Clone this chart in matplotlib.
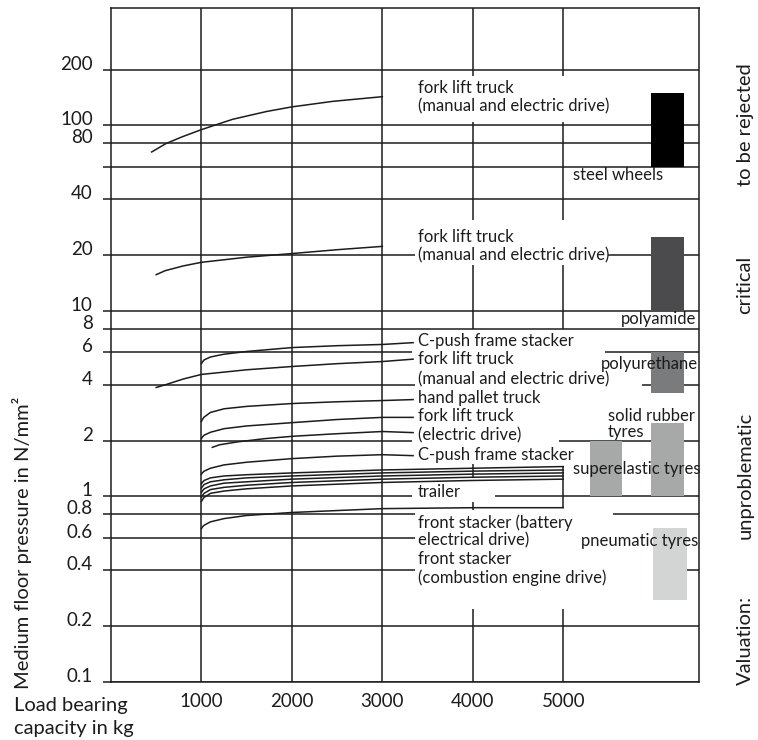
import matplotlib
matplotlib.use('Agg')
import matplotlib.pyplot as plt
import matplotlib.transforms as mtrans

plt.rcParams['font.family'] = ['Lato', 'DejaVu Sans']

INK = '#1c1c1c'
LW = 1.1

# ---- axis values -------------------------------------------------------
y_ticks = [0.1, 0.2, 0.4, 0.6, 0.8, 1, 2, 4, 6, 8, 10, 20, 40, 60, 80, 100, 200]
y_ticklabels = ['0.1', '0.2', '0.4', '0.6', '0.8', '1', '2', '4', '6', '8',
                '10', '20', '40', '', '80', '100', '200']
x_ticks = [1000, 2000, 3000, 4000, 5000]

# ---- vehicle curves (load in kg, floor pressure in N/mm2) -----------------
fork_top_x = [450, 610, 790, 1000, 1345, 1720, 2000, 2455, 3000]
fork_top_p = [72, 80, 87, 95, 108, 119, 126, 135, 143]

fork_mid_x = [500, 600, 800, 1000, 1500, 2000, 2500, 3000]
fork_mid_p = [15.7, 16.5, 17.5, 18.3, 19.5, 20.4, 21.4, 22.3]

cpush_top_x = [1000, 1010, 1030, 1100, 1250, 1500, 2000, 2500, 3000, 3340]
cpush_top_p = [5.2, 5.3, 5.45, 5.65, 5.85, 6.05, 6.35, 6.5, 6.6, 6.75]

fork_low_x = [500, 600, 800, 1000, 1500, 2000, 2500, 3000, 3340]
fork_low_p = [3.87, 4.0, 4.3, 4.55, 4.82, 5.02, 5.2, 5.34, 5.5]

pallet_x = [1000, 1010, 1030, 1100, 1250, 1500, 2000, 2500, 3000, 3340]
pallet_p = [2.54, 2.6, 2.68, 2.84, 2.97, 3.06, 3.17, 3.24, 3.29, 3.33]

fork_el_x = [1000, 1010, 1030, 1100, 1250, 1500, 2000, 2500, 3000, 3340]
fork_el_p = [2.05, 2.09, 2.14, 2.22, 2.32, 2.40, 2.50, 2.60, 2.67, 2.67]

fork_el2_x = [1120, 1200, 1400, 1700, 2000, 2500, 3000, 3340]
fork_el2_p = [1.84, 1.90, 1.97, 2.05, 2.11, 2.18, 2.24, 2.21]

cpush_low_x = [1000, 1010, 1030, 1100, 1250, 1500, 2000, 2500, 3000, 3340]
cpush_low_p = [1.32, 1.34, 1.37, 1.42, 1.48, 1.53, 1.60, 1.65, 1.68, 1.66]

trailer_x = [1000, 1010, 1030, 1100, 1250, 1500, 2000, 3000, 4000, 5000]
trailer_p = [
    [1.17, 1.19, 1.22, 1.26, 1.29, 1.31, 1.34, 1.39, 1.42, 1.45],
    [1.11, 1.13, 1.16, 1.20, 1.23, 1.26, 1.29, 1.34, 1.37, 1.39],
    [1.05, 1.07, 1.10, 1.14, 1.18, 1.20, 1.24, 1.29, 1.32, 1.34],
    [0.99, 1.01, 1.04, 1.09, 1.12, 1.15, 1.19, 1.24, 1.27, 1.29],
    [0.94, 0.96, 0.99, 1.04, 1.07, 1.10, 1.14, 1.19, 1.22, 1.24],
]

front_x = [1000, 1010, 1030, 1100, 1250, 1500, 2000, 3000, 4000, 5000]
front_p = [0.67, 0.685, 0.70, 0.73, 0.76, 0.79, 0.82, 0.86, 0.87, 0.87]

# ---- wheel material bands ---------------------------------------------
materials = ['steel wheels', 'polyamide', 'polyurethane',
             'solid rubber tyres', 'superelastic tyres', 'pneumatic tyres']
mat_low = [60, 10, 3.6, 1.0, 1.0, 0.275]
mat_high = [150, 25, 6, 2.5, 2.0, 0.68]
mat_x0 = [5970, 5970, 5970, 5970, 5300, 5995]
mat_x1 = [6335, 6335, 6335, 6335, 5650, 6370]
mat_colors = ['#000000', '#4b4b4d', '#7a7b7c', '#a6a9a8', '#a6a9a8', '#d3d4d4']

XMAX = 6500
YTOP = 430

# broken grid lines (gaps leave room for the labels)
h_spans = {
    0.4: [(0, 3356), (6371, XMAX)],
    0.6: [(0, 3356)],
    0.8: [(0, 3356), (5551, XMAX)],
    1: [(0, 3333), (4244, XMAX)],
    2: [(0, 3330), (4953, XMAX)],
    4: [(0, 3356), (5873, XMAX)],
    6: [(0, 3333), (5462, XMAX)],
    20: [(0, 3356), (5496, XMAX)],
}
v_spans = {
    4000: [(184, YTOP), (31.1, 105), (7.95, 17.8), (1.28, 1.49), (0.85, 0.93), (0.1, 0.246)],
    5000: [(184, YTOP), (31.1, 105), (7.95, 17.8), (0.87, 1.45), (0.1, 0.246)],
}

fig = plt.figure(figsize=(7.58, 7.40), dpi=100)
ax = fig.add_axes([0.1464, 0.0784, 0.7757, 0.9108])
ax.set_yscale('log')
ax.set_xlim(0, XMAX)
ax.set_ylim(0.1, YTOP)

# grid
for v in y_ticks:
    for a, b in h_spans.get(v, [(0, XMAX)]):
        ax.plot([a, b], [v, v], color=INK, lw=LW, zorder=1, solid_capstyle='butt')
for v in x_ticks:
    for lo, hi in v_spans.get(v, [(0.1, YTOP)]):
        ax.plot([v, v], [lo, hi], color=INK, lw=LW, zorder=1, solid_capstyle='butt')

# bands
for lo, hi, x0, x1, c in zip(mat_low, mat_high, mat_x0, mat_x1, mat_colors):
    ax.bar(x0, hi - lo, bottom=lo, width=x1 - x0, align='edge', color=c,
           linewidth=0, zorder=2)

# curves
curves = [(fork_top_x, fork_top_p), (fork_mid_x, fork_mid_p),
          (cpush_top_x, cpush_top_p), (fork_low_x, fork_low_p),
          (pallet_x, pallet_p), (fork_el_x, fork_el_p),
          (fork_el2_x, fork_el2_p), (cpush_low_x, cpush_low_p),
          (front_x, front_p)]
curves += [(trailer_x, p) for p in trailer_p]
for cx, cp in curves:
    ax.plot(cx, cp, color=INK, lw=LW, zorder=3)

# labels inside the chart
FS = 12
LX = 3390
labels = [
    ('fork lift truck', LX, 160, 'left'),
    ('(manual and electric drive)', LX, 127, 'left'),
    ('steel wheels', 5107, 54.4, 'left'),
    ('fork lift truck', LX, 25.2, 'left'),
    ('(manual and electric drive)', LX, 19.9, 'left'),
    ('polyamide', 6470, 9.0, 'right'),
    ('C-push frame stacker', LX, 6.85, 'left'),
    ('fork lift truck', LX, 5.48, 'left'),
    ('(manual and electric drive)', LX, 4.27, 'left'),
    ('polyurethane', 6490, 5.15, 'right'),
    ('hand pallet truck', LX, 3.38, 'left'),
    ('fork lift truck', LX, 2.70, 'left'),
    ('(electric drive)', LX, 2.13, 'left'),
    ('solid rubber', 5496, 2.73, 'left'),
    ('tyres', 5496, 2.24, 'left'),
    ('C-push frame stacker', LX, 1.68, 'left'),
    ('superelastic tyres', 5107, 1.415, 'left'),
    ('trailer', LX, 1.06, 'left'),
    ('front stacker (battery', LX, 0.724, 'left'),
    ('electrical drive)', LX, 0.58, 'left'),
    ('pneumatic tyres', 5196, 0.572, 'left'),
    ('front stacker', LX, 0.463, 'left'),
    ('(combustion engine drive)', LX, 0.366, 'left'),
]
for s, x, y, ha in labels:
    ax.text(x, y, s, ha=ha, va='center', fontsize=FS, color=INK, zorder=4)

# axis styling
for sp in ax.spines.values():
    sp.set_linewidth(LW)
    sp.set_color(INK)
ax.set_yticks(y_ticks)
ax.set_yticklabels([])
ax.minorticks_off()
ax.tick_params(axis='y', direction='out', length=5.8, width=LW, color=INK)
ax.set_xticks(x_ticks)
ax.set_xticklabels([str(v) for v in x_ticks], fontsize=13.5, color=INK)
ax.tick_params(axis='x', length=0, pad=8)

ytrans = mtrans.blended_transform_factory(ax.transAxes, ax.transData)
for v, s in zip(y_ticks, y_ticklabels):
    ax.text(-0.031, v, s, transform=ytrans, ha='right', va='baseline',
            fontsize=13.5, color=INK)

OFS = 14.5
fig.text(0.029, 0.266, 'Medium floor pressure in N/mm²', rotation=90,
         ha='center', va='center', fontsize=OFS, color=INK)
fig.text(0.018, 0.046, 'Load bearing', ha='left', va='center', fontsize=OFS, color=INK)
fig.text(0.018, 0.016, 'capacity in kg', ha='left', va='center', fontsize=OFS, color=INK)
for s, y in [('to be rejected', 0.831), ('critical', 0.615),
             ('unproblematic', 0.358), ('Valuation:', 0.134)]:
    fig.text(0.983, y, s, rotation=90, ha='center', va='center', fontsize=OFS, color=INK)

fig.savefig('out.png', dpi=100)
